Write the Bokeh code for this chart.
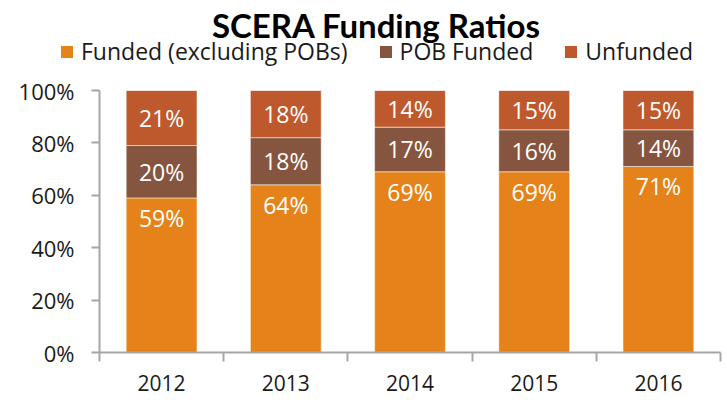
from bokeh.plotting import figure
from bokeh.layouts import column
from bokeh.models import (FixedTicker, Legend, LegendItem, ColumnDataSource,
                          PrintfTickFormatter, Label)
from bokeh.embed import file_html
from bokeh.resources import INLINE
from bokeh.core.properties import value

# ---- data ----
years = ["2012", "2013", "2014", "2015", "2016"]
funded = [59, 64, 69, 69, 71]
pob_funded = [20, 18, 17, 16, 14]
unfunded = [21, 18, 14, 15, 15]
series_names = ["Funded (excluding POBs)", "POB Funded", "Unfunded"]
y_ticks = [0, 20, 40, 60, 80, 100]
title_text = "SCERA Funding Ratios"

# ---- styles ----
colors = ["#E5831A", "#86553F", "#BE592D"]
FONT = "Open Sans"
TITLE_FONT = "Lato"
AXIS_COLOR = "#A6A6A6"
TEXT_COLOR = "#1A1A1A"
W = 727
HEAD_H = 70
MAIN_H = 330

idx = list(range(len(years)))
src = ColumnDataSource(dict(
    x=idx,
    funded=funded,
    pob=pob_funded,
    unfunded=unfunded,
    funded_lbl=[f"{v}%" for v in funded],
    pob_lbl=[f"{v}%" for v in pob_funded],
    unf_lbl=[f"{v}%" for v in unfunded],
    pob_mid=[f + q / 2 for f, q in zip(funded, pob_funded)],
    unf_mid=[f + q + u / 2 for f, q, u in zip(funded, pob_funded, unfunded)],
))

# ---------------- header (title + legend) ----------------
head = figure(width=W, height=HEAD_H, x_range=(0, W), y_range=(0, HEAD_H),
              output_backend="svg", toolbar_location=None,
              x_axis_location=None, y_axis_location=None,
              min_border=0, min_border_left=0, min_border_right=0,
              min_border_top=0, min_border_bottom=0)
head.frame_align = False
head.xgrid.visible = False
head.ygrid.visible = False
head.outline_line_color = None

# zero-size proxies (sharing the chart's source) so the legend has swatches
swatches = [head.vbar(x="x", top=0, bottom=0, width=0, source=src,
                      fill_color=c, line_color=None) for c in colors]
legend = Legend(items=[LegendItem(label=n, renderers=[r]) for n, r in zip(series_names, swatches)],
                orientation="horizontal", location=(59, 3),
                label_text_font=FONT, label_text_font_size="23px", label_text_color=TEXT_COLOR,
                glyph_width=15, glyph_height=15, label_standoff=7, spacing=30,
                padding=0, margin=0, border_line_color=None, background_fill_alpha=0)
head.add_layout(legend, "center")

head.add_layout(Label(x=376, y=HEAD_H - 24, text=title_text, text_font=TITLE_FONT,
                      text_font_size="33px", text_font_style="bold", text_color="black",
                      text_align="center", text_baseline="alphabetic"))

# ---------------- main chart ----------------
p = figure(width=W, height=MAIN_H, x_range=(-0.5, len(years) - 0.5), y_range=(0, 100),
           output_backend="svg", toolbar_location=None,
           min_border_left=99, min_border_right=7, min_border_top=20, min_border_bottom=48)
p.frame_align = False
p.xgrid.visible = False
p.ygrid.visible = False
p.outline_line_color = None

renderers = p.vbar_stack(["funded", "pob", "unfunded"], x="x", width=0.57, color=colors,
                         source=src, line_color="white", line_alpha=0.5, line_width=1)

label_kw = dict(source=src, text_color="white", text_font=value(FONT), text_font_size="23px",
                text_align="center", text_baseline="middle")
p.text(x="x", y="funded", text="funded_lbl", y_offset=20, **label_kw)
p.text(x="x", y="pob_mid", text="pob_lbl", **label_kw)
p.text(x="x", y="unf_mid", text="unf_lbl", **label_kw)

# y axis
yax = p.yaxis[0]
yax.ticker = FixedTicker(ticks=y_ticks)
yax.formatter = PrintfTickFormatter(format="%d%%")
yax.axis_line_color = AXIS_COLOR
yax.axis_line_width = 2
yax.major_tick_line_color = AXIS_COLOR
yax.major_tick_line_width = 2
yax.major_tick_out = 8
yax.major_tick_in = 0
yax.minor_tick_line_color = None
yax.major_label_standoff = 17
yax.major_label_text_font = FONT
yax.major_label_text_font_size = "22px"
yax.major_label_text_color = TEXT_COLOR

# x axis
xax = p.xaxis[0]
xax.ticker = FixedTicker(ticks=idx, minor_ticks=[i - 0.5 for i in range(len(years) + 1)])
xax.major_label_overrides = {i: y for i, y in enumerate(years)}
xax.axis_line_color = AXIS_COLOR
xax.axis_line_width = 2
xax.major_tick_line_color = None
xax.major_tick_out = 0
xax.major_tick_in = 0
xax.minor_tick_line_color = AXIS_COLOR
xax.minor_tick_line_width = 2
xax.minor_tick_out = 9
xax.minor_tick_in = 0
xax.major_label_standoff = 13
xax.major_label_text_font = FONT
xax.major_label_text_font_size = "21px"
xax.major_label_text_color = TEXT_COLOR

layout = column(head, p, spacing=0)
open("out.html", "w").write(file_html(layout, INLINE))
